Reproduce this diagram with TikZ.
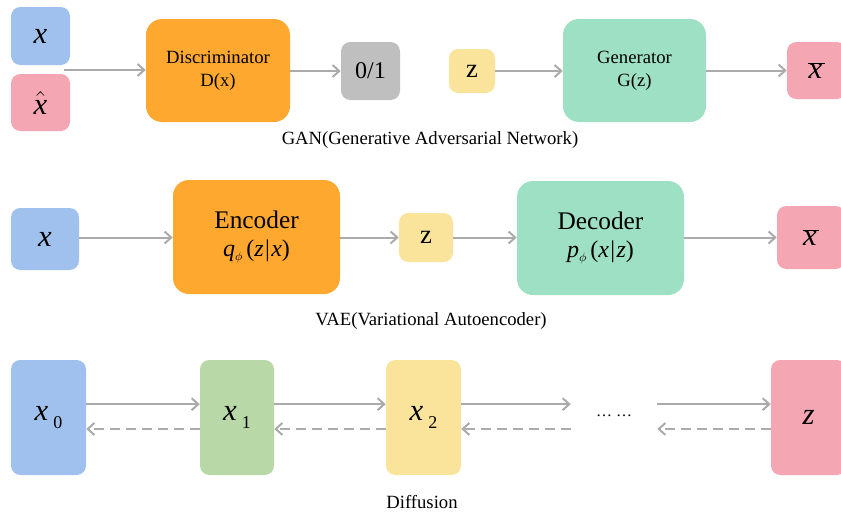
\documentclass[tikz,border=0pt]{standalone}
\usepackage{fontspec}
\setmainfont{Liberation Serif}
\usetikzlibrary{arrows.meta}
\definecolor{cblue}{HTML}{A0C1EE}
\definecolor{cpink}{HTML}{F4A7B2}
\definecolor{corange}{HTML}{FFA82F}
\definecolor{cgrey}{HTML}{BFBFBF}
\definecolor{cyellow}{HTML}{FAE39B}
\definecolor{cmint}{HTML}{9EE0C3}
\definecolor{cgreen}{HTML}{B8D8A8}
\definecolor{carrow}{HTML}{ABABAB}
\def\pxu{0.75pt}
\newcommand\xbarsym{$\overline{\kern0.5pt\textit{x}\kern2pt}$}
\begin{document}
\begin{tikzpicture}[x=0.75pt,y=-0.75pt,
  box/.style={inner sep=0pt, rounded corners=7pt, text=black},
  bigbox/.style={inner sep=0pt, rounded corners=12pt, text=black, align=center},
  arr/.style={draw=carrow, line width=1.5pt, -{Straight Barb[length=5pt,width=9pt,line width=1.5pt]}},
  darr/.style={arr, dash pattern=on 7.5pt off 4.5pt},
  captxt/.style={font=\fontsize{14}{17}\selectfont, text=black},
  mathx/.style={font=\fontsize{23}{24}\selectfont},
  midtxt/.style={font=\fontsize{14}{17}\selectfont},
]
\path[use as bounding box, clip] (0,0) rectangle (841,514);

% ---------- GAN ----------
\node[box, fill=cblue, minimum width=59*\pxu, minimum height=58*\pxu, mathx] (gx) at (40.5,36) {\textit{x}};
\node[box, fill=cpink, minimum width=59*\pxu, minimum height=57*\pxu, mathx] (gxh) at (40.5,102.5) {$\hat{\textit{x}}$};
\node[bigbox, fill=corange, minimum width=144*\pxu, minimum height=103*\pxu, midtxt] (disc) at (218,70.5) {Discriminator\\D(x)};
\node[box, fill=cgrey, minimum width=59*\pxu, minimum height=58*\pxu, font=\fontsize{18}{20}\selectfont] (o01) at (370.5,71) {0/1};
\node[box, fill=cyellow, minimum width=46*\pxu, minimum height=44*\pxu, font=\fontsize{20}{22}\selectfont] (gz) at (472,71) {z};
\node[bigbox, fill=cmint, minimum width=143*\pxu, minimum height=103*\pxu, midtxt] (gen) at (634.5,70.5) {Generator\\G(z)};
\node[box, fill=cpink, minimum width=59*\pxu, minimum height=57*\pxu, mathx] (gxb) at (816.5,70.5) {\xbarsym};
\coordinate (gin) at (64,70);
\draw[arr] (gin) -- (gin -| disc.west);
\draw[arr] (disc.east |- o01.west) -- (o01.west);
\draw[arr] (gz.east) -- (gz.east -| gen.west);
\draw[arr] (gen.east |- gxb.west) -- (gxb.west);
\node[captxt] (gancap) at (430,140) {GAN(Generative Adversarial Network)};

% ---------- VAE ----------
\node[box, fill=cblue, minimum width=68*\pxu, minimum height=62*\pxu, mathx] (vx) at (45,239) {\textit{x}};
\node[bigbox, fill=corange, minimum width=167*\pxu, minimum height=114*\pxu, font=\fontsize{19}{24}\selectfont] (enc) at (256.5,237) {\raisebox{-3pt}{Encoder}\\{\fontsize{18}{20}\selectfont\textit{q}\raisebox{-3pt}{\fontsize{9}{9}\selectfont$\phi$}\,(\textit{z}\hspace{1pt}|\hspace{1pt}\textit{x})}};
\node[box, fill=cyellow, minimum width=54*\pxu, minimum height=49*\pxu, font=\fontsize{20}{22}\selectfont] (vz) at (426,237.5) {z};
\node[bigbox, fill=cmint, minimum width=167*\pxu, minimum height=114*\pxu, font=\fontsize{19}{24}\selectfont] (dec) at (600.5,238) {\raisebox{-3pt}{Decoder}\\{\fontsize{18}{20}\selectfont\textit{p}\raisebox{-3pt}{\fontsize{9}{9}\selectfont$\phi$}\,(\textit{x}\hspace{1pt}|\hspace{1pt}\textit{z})}};
\node[box, fill=cpink, minimum width=68*\pxu, minimum height=63*\pxu, mathx] (vxb) at (811,237.5) {\xbarsym};
\draw[arr] (vx.east |- vz.west) -- (vz.west -| enc.west);
\draw[arr] (enc.east |- vz.west) -- (vz.west);
\draw[arr] (vz.east) -- (vz.east -| dec.west);
\draw[arr] (dec.east |- vz.east) -- (vz.east -| vxb.west);
\node[captxt] (vaecap) at (431,321) {VAE(Variational Autoencoder)};

% ---------- Diffusion ----------
\node[box, fill=cblue, minimum width=75*\pxu, minimum height=115*\pxu, mathx] (d0) at (48.5,417.5) {\textit{x}\hspace{4pt}\raisebox{-6pt}{\fontsize{13.5}{14}\selectfont 0}};
\node[box, fill=cgreen, minimum width=74*\pxu, minimum height=115*\pxu, mathx] (d1) at (237,417.5) {\textit{x}\hspace{4pt}\raisebox{-6pt}{\fontsize{13.5}{14}\selectfont 1}};
\node[box, fill=cyellow, minimum width=75*\pxu, minimum height=115*\pxu, mathx] (d2) at (423.5,417.5) {\textit{x}\hspace{4pt}\raisebox{-6pt}{\fontsize{13.5}{14}\selectfont 2}};
\node[inner sep=0pt, minimum width=86*\pxu, minimum height=20*\pxu, font=\fontsize{12}{14}\selectfont] (dots) at (614,417.5) {\raisebox{3pt}{… …}};
\node[box, fill=cpink, minimum width=75*\pxu, minimum height=115*\pxu, mathx] (dz) at (808.5,417.5) {\textit{z}};
\draw[arr] ([yshift=10pt]d0.east) -- ([yshift=10pt]d1.west);
\draw[arr] ([yshift=10pt]d1.east) -- ([yshift=10pt]d2.west);
\draw[arr] ([yshift=10pt]d2.east) -- ([yshift=10pt]dots.west);
\draw[arr] ([yshift=10pt]dots.east) -- ([yshift=10pt]dz.west);
\draw[darr] ([yshift=-8.6pt]d1.west) -- ([yshift=-8.6pt]d0.east);
\draw[darr] ([yshift=-8.6pt]d2.west) -- ([yshift=-8.6pt]d1.east);
\draw[darr] ([yshift=-8.6pt]dots.west) -- ([yshift=-8.6pt]d2.east);
\draw[darr] ([yshift=-8.6pt]dz.west) -- ([yshift=-8.6pt]dots.east);
\node[captxt] (diffcap) at (422,502) {Diffusion};
\end{tikzpicture}
\end{document}
